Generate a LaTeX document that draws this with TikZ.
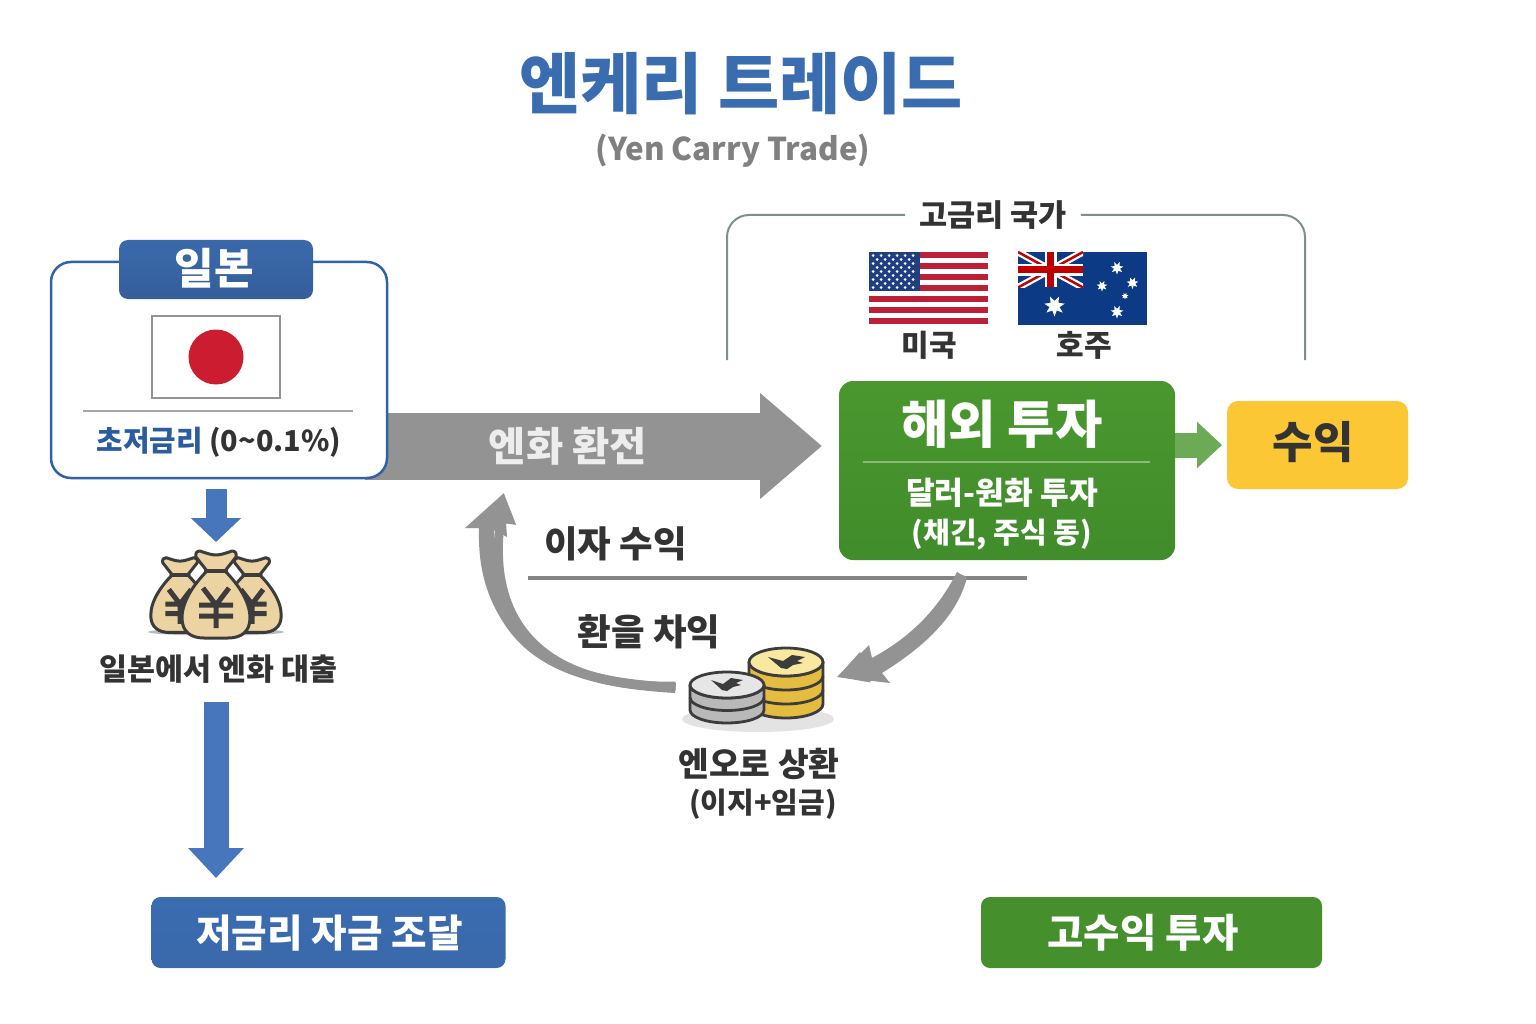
\documentclass[tikz,border=0pt]{standalone}
\usepackage{fontspec}
\setmainfont{Noto Sans CJK KR}
\usetikzlibrary{arrows.meta,calc,backgrounds}
\definecolor{ttlblue}{HTML}{3A6CB0}
\definecolor{hdrblue}{HTML}{3A69AB}
\definecolor{ruleblue}{HTML}{2F62A6}
\definecolor{arrblue}{HTML}{4776BC}
\definecolor{darkblue}{HTML}{2A5CA0}
\definecolor{txtdark}{HTML}{333333}
\definecolor{subgray}{HTML}{808080}
\definecolor{arrgray}{HTML}{939393}
\definecolor{cgreen}{HTML}{4A972F}
\definecolor{cgreenb}{HTML}{418C2B}
\definecolor{agreen}{HTML}{6CAA56}
\definecolor{cyellow}{HTML}{FBC735}
\definecolor{brk}{HTML}{7F8F8A}
\definecolor{jred}{HTML}{CC1C30}
\definecolor{usred}{HTML}{BC2038}
\definecolor{usblue}{HTML}{1F3F7F}
\definecolor{aublue}{HTML}{0C3A84}
\definecolor{bagfill}{HTML}{EBD3A2}
\definecolor{icond}{HTML}{3C3C3C}
\definecolor{goldside}{HTML}{E3BC40}
\definecolor{goldtop}{HTML}{F8E8A0}
\definecolor{silvside}{HTML}{B9B9B9}
\definecolor{silvtop}{HTML}{E6E6E6}
\newcommand\fs[1]{\fontsize{#1}{#1}\selectfont\bfseries}
\tikzset{
  lbl/.style={inner sep=0pt,outer sep=0pt,text=txtdark,align=center},
  filledbox/.style={rounded corners=9pt,inner sep=0pt,outer sep=0pt,text=white,align=center},
  hollow/.style={inner sep=0pt,outer sep=0pt},
  coinline/.style={draw=icond,line width=2.8pt,line join=round},
  bagline/.style={draw=icond,line width=3pt,line join=round},
}
\newcommand\starat[3]{\fill[white,shift={(#1,#2)}] plot[variable=\t,samples at={0,...,13}] ({(mod(\t,2)==0?#3:0.48*#3)*sin(\t*360/14)},{(mod(\t,2)==0?#3:0.48*#3)*cos(\t*360/14)}) -- cycle;}
\newcommand\coinstack[8]{%
  \begin{scope}[shift={(#1,#2)}]
    \pgfmathsetmacro\kx{.5523*#3}\pgfmathsetmacro\ky{.5523*#4}\pgfmathsetmacro\hh{#5*#6}
    \draw[coinline,fill=#7] (-#3,0) -- (-#3,\hh) .. controls (-#3,\hh+\ky) and (-\kx,\hh+#4) .. (0,\hh+#4) .. controls (\kx,\hh+#4) and (#3,\hh+\ky) .. (#3,\hh) -- (#3,0) -- cycle;
    \foreach \i in {1,...,#5}{
      \pgfmathsetmacro\yy{(\i-1)*#6}
      \draw[coinline] (-#3,\yy) .. controls (-#3,\yy+\ky) and (-\kx,\yy+#4) .. (0,\yy+#4) .. controls (\kx,\yy+#4) and (#3,\yy+\ky) .. (#3,\yy);
    }
    \draw[coinline,fill=#8] (0,0) ellipse [x radius=#3pt,y radius=#4pt];
  \end{scope}}
\newcommand\moneybag[3]{%
  \begin{scope}[shift={(#1,#2)},scale=#3]
    \draw[bagline,fill=bagfill] (-9,1) .. controls (-20,12) and (-34,30) .. (-34,48) .. controls (-34,62) and (-25,68) .. (-12,68) -- (12,68) .. controls (25,68) and (34,62) .. (34,48) .. controls (34,30) and (20,12) .. (9,1) -- cycle;
    \draw[bagline,fill=bagfill] (-9,1) -- (-20,-13) .. controls (-21,-17) and (-19,-19) .. (-16,-19) .. controls (-10,-17) and (-5,-15) .. (0,-15) .. controls (5,-15) and (10,-17) .. (16,-19) .. controls (19,-19) and (21,-17) .. (20,-13) -- (9,1) -- cycle;
    \draw[icond,line width=4pt,line cap=round] (-10,1) -- (10,1);
    \draw[icond,line width=5pt] (-13,18) -- (0,35) -- (13,18) (0,35) -- (0,58) (-17,35) -- (17,35) (-17,46) -- (17,46);
  \end{scope}}
\begin{document}
\begin{tikzpicture}[x=1pt,y=-1pt]
\useasboundingbox (0,0) rectangle (1536,1024);

% title
\node[lbl,text=ttlblue,font=\fs{66.5}] (title) at (741,84) {엔케리 트레이드};
\node[lbl,text=subgray,font=\fs{31.4}] (subtitle) at (733,150.5) {(Yen Carry Trade)};

% Japan card
\node[draw=ruleblue,line width=2.5pt,fill=white,rounded corners=20pt,minimum width=336pt,minimum height=216pt,hollow] (japan) at (219,370) {};
\node[filledbox,shade,top color=hdrblue,bottom color=hdrblue!90!black,minimum width=194pt,minimum height=59pt] (jphead) at (216,269.5) {};
\node[lbl,text=white,font=\fs{43}] (jptext) at (214,268.5) {일본};
\node[draw=gray!85,line width=1.8pt,fill=white,minimum width=128pt,minimum height=82pt,hollow] (jpflag) at (216,357) {};
\fill[jred] (jpflag.center) circle [radius=27.5pt];
\coordinate (jdivL) at (83,411);
\coordinate (jdivR) at (353,411);
\draw[gray!70,line width=1.2pt] (jdivL) -- (jdivR);
\node[lbl,font=\fs{28.8}] (rate) at (219,442) {\textcolor{darkblue}{초저금리} (0\textasciitilde0.1\%)};

% overseas, profit
\node[filledbox,shade,top color=cgreen,bottom color=cgreenb,rounded corners=14pt,minimum width=336pt,minimum height=179pt] (overseas) at (1007,470.5) {};
\coordinate (odivL) at (863,462);
\coordinate (odivR) at (1150,462);
\draw[white!35!cgreen,line width=2.5pt] (odivL) -- (odivR);
\node[lbl,text=white,font=\fs{51.5}] (ovh) at (1002,424) {해외 투자};
\node[lbl,text=white,font=\fs{31.3}] (ovs) at (1002,492.5) {달러-원화 투자};
\node[lbl,text=white,font=\fs{29}] (ovt) at (1002,534.5) {(채긴, 주식 동)};
\node[filledbox,fill=cyellow,rounded corners=11pt,minimum width=181pt,minimum height=88pt] (profit) at (1317.5,445) {};
\node[lbl,font=\fs{44}] (profittext) at (1313,442) {수익};

% big exchange arrow (behind the card)
\coordinate (exTip) at (822,446);
\begin{scope}[on background layer]
  \fill[white] (0,0) rectangle (1536,1024);
  \draw[arrgray,line width=67pt,-{Triangle[length=62pt,width=102pt]},shorten <=-22pt] (japan.east |- exTip) -- (exTip);
\end{scope}
\node[lbl,text=white!93!black,font=\fs{40.5}] (exch) at (568,446) {엔화 환전};

% green arrow
\draw[agreen,line width=25pt,-{Triangle[length=25pt,width=45pt]},shorten >=5pt] (overseas.east |- profit.west) -- (profit.west);

% high-rate bracket
\node[lbl,font=\fs{30.6}] (high) at (993,215) {고금리 국가};
\coordinate (brL) at (727,360);
\coordinate (brR) at (1305,360);
\draw[brk,line width=2pt,rounded corners=22pt] (brL) -- (brL |- high.west) -- ([xshift=-14pt]high.west);
\draw[brk,line width=2pt,rounded corners=22pt] (brR) -- (brR |- high.east) -- ([xshift=14pt]high.east);

% US flag
\fill[white] (869,252) rectangle (988,324);
\foreach \i in {0,2,...,12}{\fill[usred] (869,252+\i*5.54) rectangle (988,252+\i*5.54+5.54);}
\fill[usblue] (869,252) rectangle (920,290.5);
\foreach \r in {0,...,8}{
  \pgfmathsetmacro\nc{mod(\r,2)==0?6:5}
  \pgfmathsetmacro\oo{mod(\r,2)==0?0:4}
  \foreach \c in {1,...,\nc}{\fill[white] (873+\oo+\c*8-8,255.5+\r*4) circle [radius=1.5pt];}
}
\node[lbl,font=\fs{30}] (us) at (929,345.5) {미국};

% Australian flag
\fill[aublue] (1018,252) rectangle (1147,325);
\begin{scope}
  \clip (1018,252) rectangle (1083,287.5);
  \draw[white,line width=7pt] (1018,252) -- (1083,287.5) (1018,287.5) -- (1083,252);
  \draw[red!75!black,line width=2.5pt] (1018,252) -- (1083,287.5) (1018,287.5) -- (1083,252);
  \draw[white,line width=12pt] (1050.5,252) -- (1050.5,287.5) (1018,269.7) -- (1083,269.7);
  \draw[red!75!black,line width=7.5pt] (1050.5,252) -- (1050.5,287.5) (1018,269.7) -- (1083,269.7);
\end{scope}
\starat{1054.5}{306}{10.5}
\starat{1117}{268}{6.5}
\starat{1132.5}{283}{6}
\starat{1102}{286}{5.5}
\starat{1125}{296}{3.5}
\starat{1117}{312}{6.5}
\node[lbl,font=\fs{30}] (au) at (1084,345.5) {호주};

% money bags
\fill[gray!55] (216,632) ellipse [x radius=68pt,y radius=3.5pt];
\moneybag{180}{574}{.86}
\moneybag{252}{574}{.86}
\moneybag{216}{570}{1}
\node[hollow,minimum width=134pt,minimum height=90pt] (bags) at (216,595) {};
\node[lbl,font=\fs{30.4}] (loan) at (218.5,669) {일본에서 엔화 대출};
\draw[arrblue,line width=21pt,-{Triangle[length=24pt,width=49pt]},shorten <=11pt,shorten >=8pt] (bags.north |- japan.south) -- (bags.north);

% funding box
\node[filledbox,shade,top color=ttlblue,bottom color=hdrblue,minimum width=354pt,minimum height=71pt] (fund) at (328.5,932.5) {};
\node[lbl,text=white,font=\fs{38.6}] (fundtext) at (329.5,933) {저금리 자금 조달};
\draw[arrblue,line width=25pt,-{Triangle[length=30pt,width=54pt]},shorten <=19pt,shorten >=19pt] (bags.south |- loan.south) -- (bags.south |- fund.north);
\node[filledbox,fill=cgreenb!60!cgreen,minimum width=341pt,minimum height=71pt] (hi) at (1151.5,932.5) {};
\node[lbl,text=white,font=\fs{39.5}] (hitext) at (1143,933) {고수익 투자};

% return labels and rule
\node[lbl,font=\fs{36.5}] (interest) at (615.5,543.5) {이자 수익};
\coordinate (ruleL) at (528,578);
\coordinate (ruleR) at (1027,578);
\draw[arrgray!90!black,line width=3.5pt] (ruleL) -- (ruleR);
\node[lbl,font=\fs{36.5}] (fxgain) at (649,632) {환을 차익};

% coins
\fill[black!11] (758,719) ellipse [x radius=76pt,y radius=13pt];
\coinstack{786}{662}{37}{14}{3}{14}{goldside}{goldtop}
\fill[icond] (768,657) -- (783,661) -- (792,655) -- (805,657) -- (797,661) -- (803,663) -- (793,665) -- (787,669) -- (781,668) -- cycle;
\coinstack{727}{685}{37}{13}{2}{12.5}{silvside}{silvtop}
\fill[icond] (711,680) -- (723,684) -- (731,678) -- (743,680) -- (736,683) -- (741,685) -- (733,687) -- (727,691) -- (722,690) -- cycle;
\node[hollow,minimum width=135pt,minimum height=78pt] (coins) at (757,686) {};
\node[lbl,font=\fs{33.4}] (repay) at (759,763.5) {엔오로 상환};
\node[lbl,font=\fs{29}] (repay2) at (763,804.5) {(이지+임금)};

% curved return arrows
\coordinate (retTip) at (837,677);
\coordinate (leftTip) at (504,493);
\draw[arrgray,line width=9pt,-{Triangle[length=30pt,width=30pt]}] ($(overseas.south)+(-45,15)$) .. controls ($(overseas.south)+(-60,60)$) and (915,650) .. (retTip);
\fill[arrgray] (957,572) -- (967,578) .. controls (958,610) and (935,640) .. (882,673) -- (890,683) -- (837,677) -- (869,645) -- (872,658) .. controls (905,640) and (935,615) .. (957,572) -- cycle;
\draw[arrgray,line width=9pt,-{Triangle[length=30pt,width=30pt]},shorten <=14pt] (coins.west) .. controls (550,688) and (486,630) .. (leftTip);
\fill[arrgray] (675,693) .. controls (590,688) and (535,670) .. (505,625) .. controls (485,595) and (478,565) .. (479,528) -- (465,528) -- (504,493) -- (507,537) -- (494,530) .. controls (493,575) and (505,620) .. (535,645) .. controls (570,672) and (620,680) .. (676,683) -- cycle;
\end{tikzpicture}
\end{document}
